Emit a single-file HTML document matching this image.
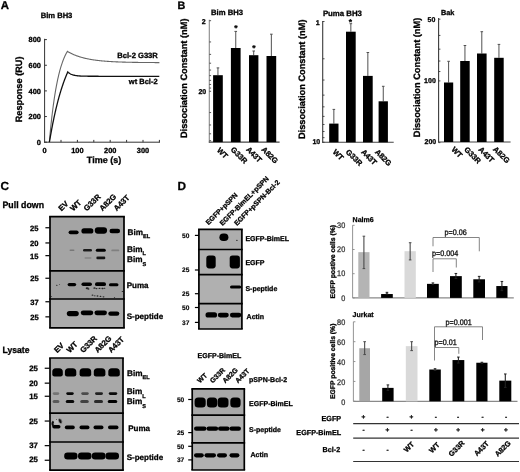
<!DOCTYPE html>
<html><head><meta charset="utf-8"><title>Figure</title>
<style>html,body{margin:0;padding:0;background:#fff;}body{width:520px;height:472px;overflow:hidden;font-family:"Liberation Sans",sans-serif;}svg{display:block;will-change:transform;}</style>
</head><body>
<svg width="520" height="472" viewBox="0 0 520 472" font-family='"Liberation Sans", sans-serif' font-weight="bold" text-rendering="geometricPrecision">
<defs><filter id="b1" x="-50%" y="-50%" width="200%" height="200%"><feGaussianBlur stdDeviation="0.55"/></filter>
<filter id="b2" x="-50%" y="-50%" width="200%" height="200%"><feGaussianBlur stdDeviation="0.9"/></filter></defs>
<rect width="520" height="472" fill="#fff"/>
<text x="0.70" y="8.90" font-size="11.4" fill="#000" stroke="#000" stroke-width="0.3">A</text>
<text x="40.70" y="18.10" font-size="7.6" fill="#000" stroke="#000" stroke-width="0.3">Bim BH3</text>
<line x1="44.60" y1="38.80" x2="44.60" y2="142.70" stroke="#333" stroke-width="1"/>
<line x1="44.10" y1="142.20" x2="160.00" y2="142.20" stroke="#333" stroke-width="1"/>
<line x1="44.60" y1="142.20" x2="46.90" y2="142.20" stroke="#333" stroke-width="1"/>
<text x="40.90" y="144.90" font-size="7.4" text-anchor="end" fill="#000" stroke="#000" stroke-width="0.3">0</text>
<line x1="44.60" y1="116.55" x2="46.90" y2="116.55" stroke="#333" stroke-width="1"/>
<text x="40.90" y="119.25" font-size="7.4" text-anchor="end" fill="#000" stroke="#000" stroke-width="0.3">200</text>
<line x1="44.60" y1="90.90" x2="46.90" y2="90.90" stroke="#333" stroke-width="1"/>
<text x="40.90" y="93.60" font-size="7.4" text-anchor="end" fill="#000" stroke="#000" stroke-width="0.3">400</text>
<line x1="44.60" y1="65.25" x2="46.90" y2="65.25" stroke="#333" stroke-width="1"/>
<text x="40.90" y="67.95" font-size="7.4" text-anchor="end" fill="#000" stroke="#000" stroke-width="0.3">600</text>
<line x1="44.60" y1="39.60" x2="46.90" y2="39.60" stroke="#333" stroke-width="1"/>
<text x="40.90" y="42.30" font-size="7.4" text-anchor="end" fill="#000" stroke="#000" stroke-width="0.3">800</text>
<line x1="61.00" y1="142.20" x2="61.00" y2="139.90" stroke="#333" stroke-width="1"/>
<line x1="77.40" y1="142.20" x2="77.40" y2="139.90" stroke="#333" stroke-width="1"/>
<line x1="93.80" y1="142.20" x2="93.80" y2="139.90" stroke="#333" stroke-width="1"/>
<line x1="110.20" y1="142.20" x2="110.20" y2="139.90" stroke="#333" stroke-width="1"/>
<line x1="126.60" y1="142.20" x2="126.60" y2="139.90" stroke="#333" stroke-width="1"/>
<line x1="143.00" y1="142.20" x2="143.00" y2="139.90" stroke="#333" stroke-width="1"/>
<line x1="159.40" y1="142.20" x2="159.40" y2="139.90" stroke="#333" stroke-width="1"/>
<text x="44.60" y="153.20" font-size="7.4" text-anchor="middle" fill="#000" stroke="#000" stroke-width="0.3">0</text>
<text x="77.40" y="153.20" font-size="7.4" text-anchor="middle" fill="#000" stroke="#000" stroke-width="0.3">100</text>
<text x="110.20" y="153.20" font-size="7.4" text-anchor="middle" fill="#000" stroke="#000" stroke-width="0.3">200</text>
<text x="143.00" y="153.20" font-size="7.4" text-anchor="middle" fill="#000" stroke="#000" stroke-width="0.3">300</text>
<text x="22.40" y="89.40" font-size="9.2" text-anchor="middle" fill="#000" stroke="#000" stroke-width="0.3" transform="rotate(-90 22.40 89.40)">Response (RU)</text>
<text x="104.00" y="162.70" font-size="9.0" text-anchor="middle" fill="#000" stroke="#000" stroke-width="0.3">Time (s)</text>
<path d="M49.30,142.20 L49.55,139.42 L49.80,136.71 L50.05,134.07 L50.30,131.49 L50.55,128.99 L50.80,126.55 L51.05,124.18 L51.30,121.86 L51.55,119.61 L51.80,117.42 L52.05,115.28 L52.30,113.20 L52.55,111.18 L52.80,109.21 L53.05,107.29 L53.30,105.41 L53.55,103.59 L53.80,101.82 L54.05,100.09 L54.30,98.41 L54.55,96.77 L54.80,95.17 L55.05,93.62 L55.30,92.11 L55.55,90.63 L55.80,89.20 L56.05,87.80 L56.30,86.44 L56.55,85.11 L56.80,83.82 L57.05,82.57 L57.30,81.34 L57.55,80.15 L57.80,78.99 L58.05,77.86 L58.30,76.76 L58.55,75.68 L58.80,74.64 L59.05,73.62 L59.30,72.63 L59.55,71.67 L59.80,70.73 L60.05,69.81 L60.30,68.92 L60.55,68.06 L60.80,67.21 L61.05,66.39 L61.30,65.59 L61.55,64.81 L61.80,64.05 L62.05,63.31 L62.30,62.59 L62.55,61.88 L62.80,61.20 L63.05,60.54 L63.30,59.89 L63.55,59.26 L63.80,58.64 L64.05,58.04 L64.30,57.46 L64.55,56.89 L64.80,56.34 L65.05,55.80 L65.30,55.28 L65.55,54.77 L65.80,54.27 L66.05,53.78 L66.30,53.31 L66.55,52.85 L66.80,52.41 L67.05,51.97 L67.30,51.55 L67.40,51.38 L67.90,51.68 L68.40,51.97 L68.90,52.25 L69.40,52.52 L69.90,52.79 L70.40,53.05 L70.90,53.30 L71.40,53.55 L71.90,53.79 L72.40,54.02 L72.90,54.25 L73.40,54.47 L73.90,54.68 L74.40,54.89 L74.90,55.10 L75.40,55.30 L75.90,55.49 L76.40,55.68 L76.90,55.86 L77.40,56.04 L77.90,56.22 L78.40,56.39 L78.90,56.55 L79.40,56.71 L79.90,56.87 L80.40,57.02 L80.90,57.17 L81.40,57.32 L81.90,57.46 L82.40,57.59 L82.90,57.73 L83.40,57.86 L83.90,57.99 L84.40,58.11 L84.90,58.23 L85.40,58.35 L85.90,58.46 L86.40,58.57 L86.90,58.68 L87.40,58.78 L87.90,58.89 L88.40,58.99 L88.90,59.08 L89.40,59.18 L89.90,59.27 L90.40,59.36 L90.90,59.45 L91.40,59.53 L91.90,59.61 L92.40,59.69 L92.90,59.77 L93.40,59.85 L93.90,59.92 L94.40,60.00 L94.90,60.07 L95.40,60.14 L95.90,60.20 L96.40,60.27 L96.90,60.33 L97.40,60.39 L97.90,60.45 L98.40,60.51 L98.90,60.57 L99.40,60.62 L99.90,60.68 L100.40,60.73 L100.90,60.78 L101.40,60.83 L101.90,60.88 L102.40,60.93 L102.90,60.97 L103.40,61.02 L103.90,61.06 L104.40,61.11 L104.90,61.15 L105.40,61.19 L105.90,61.23 L106.40,61.26 L106.90,61.30 L107.40,61.34 L107.90,61.37 L108.40,61.41 L108.90,61.44 L109.40,61.47 L109.90,61.51 L110.40,61.54 L110.90,61.57 L111.40,61.60 L111.90,61.63 L112.40,61.65 L112.90,61.68 L113.40,61.71 L113.90,61.73 L114.40,61.76 L114.90,61.78 L115.40,61.81 L115.90,61.83 L116.40,61.85 L116.90,61.87 L117.40,61.89 L117.90,61.91 L118.40,61.93 L118.90,61.95 L119.40,61.97 L119.90,61.99 L120.40,62.01 L120.90,62.03 L121.40,62.05 L121.90,62.06 L122.40,62.08 L122.90,62.09 L123.40,62.11 L123.90,62.13 L124.40,62.14 L124.90,62.15 L125.40,62.17 L125.90,62.18 L126.40,62.19 L126.90,62.21 L127.40,62.22 L127.90,62.23 L128.40,62.24 L128.90,62.26 L129.40,62.27 L129.90,62.28 L130.40,62.29 L130.90,62.30 L131.40,62.31 L131.90,62.32 L132.40,62.33 L132.90,62.34 L133.40,62.35 L133.90,62.36 L134.40,62.36 L134.90,62.37 L135.40,62.38 L135.90,62.39 L136.40,62.40 L136.90,62.40 L137.40,62.41 L137.90,62.42 L138.40,62.43 L138.90,62.43 L139.40,62.44 L139.90,62.45 L140.40,62.45 L140.90,62.46 L141.40,62.46 L141.90,62.47 L142.40,62.48 L142.90,62.48 L143.40,62.49 L143.90,62.49 L144.40,62.50 L144.90,62.50 L145.40,62.51 L145.90,62.51 L146.40,62.52 L146.90,62.52 L147.40,62.52 L147.90,62.53 L148.40,62.53 L148.90,62.54 L149.40,62.54 L149.90,62.54 L150.40,62.55 L150.90,62.55 L151.40,62.56 L151.90,62.56 L152.40,62.56 L152.90,62.57 L153.40,62.57 L153.90,62.57 L154.40,62.57 L154.90,62.58 L155.40,62.58 L155.90,62.58 L156.40,62.59 L156.90,62.59 L157.40,62.59 L157.90,62.59 L158.40,62.60 L158.90,62.60 L159.40,62.60" stroke="#666" stroke-width="1.1" fill="none"/>
<path d="M49.40,142.20 L49.65,140.70 L49.90,139.23 L50.15,137.77 L50.40,136.33 L50.65,134.92 L50.90,133.52 L51.15,132.14 L51.40,130.78 L51.65,129.43 L51.90,128.11 L52.15,126.80 L52.40,125.51 L52.65,124.24 L52.90,122.98 L53.15,121.75 L53.40,120.52 L53.65,119.32 L53.90,118.13 L54.15,116.96 L54.40,115.80 L54.65,114.66 L54.90,113.53 L55.15,112.42 L55.40,111.32 L55.65,110.24 L55.90,109.17 L56.15,108.12 L56.40,107.08 L56.65,106.05 L56.90,105.04 L57.15,104.04 L57.40,103.06 L57.65,102.09 L57.90,101.13 L58.15,100.18 L58.40,99.25 L58.65,98.33 L58.90,97.42 L59.15,96.53 L59.40,95.64 L59.65,94.77 L59.90,93.91 L60.15,93.06 L60.40,92.23 L60.65,91.40 L60.90,90.59 L61.15,89.78 L61.40,88.99 L61.65,88.21 L61.90,87.43 L62.15,86.67 L62.40,85.92 L62.65,85.18 L62.90,84.45 L63.15,83.72 L63.40,83.01 L63.65,82.31 L63.90,81.62 L64.15,80.93 L64.40,80.26 L64.65,79.59 L64.90,78.94 L65.15,78.29 L65.40,77.65 L65.65,77.02 L65.90,76.40 L66.15,75.78 L66.40,75.18 L66.65,74.58 L66.90,73.99 L67.15,73.41 L67.40,72.84 L67.65,72.27 L67.80,71.93 L68.30,72.39 L68.80,72.80 L69.30,73.17 L69.80,73.49 L70.30,73.79 L70.80,74.05 L71.30,74.28 L71.80,74.49 L72.30,74.68 L72.80,74.85 L73.30,75.00 L73.80,75.13 L74.30,75.25 L74.80,75.36 L75.30,75.46 L75.80,75.54 L76.30,75.62 L76.80,75.69 L77.30,75.75 L77.80,75.81 L78.30,75.86 L78.80,75.90 L79.30,75.94 L79.80,75.98 L80.30,76.01 L80.80,76.04 L81.30,76.06 L81.80,76.09 L82.30,76.11 L82.80,76.12 L83.30,76.14 L83.80,76.16 L84.30,76.17 L84.80,76.18 L85.30,76.19 L85.80,76.20 L86.30,76.21 L86.80,76.22 L87.30,76.22 L87.80,76.23 L88.30,76.23 L88.80,76.24 L89.30,76.24 L89.80,76.25 L90.30,76.25 L90.80,76.25 L91.30,76.26 L91.80,76.26 L92.30,76.26 L92.80,76.26 L93.30,76.26 L93.80,76.27 L94.30,76.27 L94.80,76.27 L95.30,76.27 L95.80,76.27 L96.30,76.27 L96.80,76.27 L97.30,76.27 L97.80,76.27 L98.30,76.27 L98.80,76.28 L99.30,76.28 L99.80,76.28 L100.30,76.28 L100.80,76.28 L101.30,76.28 L101.80,76.28 L102.30,76.28 L102.80,76.28 L103.30,76.28 L103.80,76.28 L104.30,76.28 L104.80,76.28 L105.30,76.28 L105.80,76.28 L106.30,76.28 L106.80,76.28 L107.30,76.28 L107.80,76.28 L108.30,76.28 L108.80,76.28 L109.30,76.28 L109.80,76.28 L110.30,76.28 L110.80,76.28 L111.30,76.28 L111.80,76.28 L112.30,76.28 L112.80,76.28 L113.30,76.28 L113.80,76.28 L114.30,76.28 L114.80,76.28 L115.30,76.28 L115.80,76.28 L116.30,76.28 L116.80,76.28 L117.30,76.28 L117.80,76.28 L118.30,76.28 L118.80,76.28 L119.30,76.28 L119.80,76.28 L120.30,76.28 L120.80,76.28 L121.30,76.28 L121.80,76.28 L122.30,76.28 L122.80,76.28 L123.30,76.28 L123.80,76.28 L124.30,76.28 L124.80,76.28 L125.30,76.28 L125.80,76.28 L126.30,76.28 L126.80,76.28 L127.30,76.28 L127.80,76.28 L128.30,76.28 L128.80,76.28 L129.30,76.28 L129.80,76.28 L130.30,76.28 L130.80,76.28 L131.30,76.28 L131.80,76.28 L132.30,76.28 L132.80,76.28 L133.30,76.28 L133.80,76.28 L134.30,76.28 L134.80,76.28 L135.30,76.28 L135.80,76.28 L136.30,76.28 L136.80,76.28 L137.30,76.28 L137.80,76.28 L138.30,76.28 L138.80,76.28 L139.30,76.28 L139.80,76.28 L140.30,76.28 L140.80,76.28 L141.30,76.28 L141.80,76.28 L142.30,76.28 L142.80,76.28 L143.30,76.28 L143.80,76.28 L144.30,76.28 L144.80,76.28 L145.30,76.28 L145.80,76.28 L146.30,76.28 L146.80,76.28 L147.30,76.28 L147.80,76.28 L148.30,76.28 L148.80,76.28 L149.30,76.28 L149.80,76.28 L150.30,76.28 L150.80,76.28 L151.30,76.28 L151.80,76.28 L152.30,76.28 L152.80,76.28 L153.30,76.28 L153.80,76.28 L154.30,76.28 L154.80,76.28 L155.30,76.28 L155.80,76.28 L156.30,76.28 L156.80,76.28 L157.30,76.28 L157.80,76.28 L158.30,76.28 L158.80,76.28 L159.30,76.28" stroke="#111" stroke-width="1.3" fill="none"/>
<text x="117.30" y="57.70" font-size="7.6" fill="#000" stroke="#000" stroke-width="0.3">Bcl-2 G33R</text>
<text x="128.80" y="84.20" font-size="7.5" fill="#000" stroke="#000" stroke-width="0.3">wt Bcl-2</text>
<text x="177.50" y="9.30" font-size="10.8" fill="#000" stroke="#000" stroke-width="0.3">B</text>
<line x1="209.30" y1="19.70" x2="209.30" y2="142.60" stroke="#888" stroke-width="1.1"/>
<line x1="208.80" y1="142.10" x2="279.60" y2="142.10" stroke="#444" stroke-width="1.1"/>
<line x1="209.30" y1="20.70" x2="211.10" y2="20.70" stroke="#444" stroke-width="0.9"/>
<line x1="209.30" y1="41.95" x2="211.10" y2="41.95" stroke="#444" stroke-width="0.9"/>
<line x1="209.30" y1="54.38" x2="211.10" y2="54.38" stroke="#444" stroke-width="0.9"/>
<line x1="209.30" y1="63.21" x2="211.10" y2="63.21" stroke="#444" stroke-width="0.9"/>
<line x1="209.30" y1="70.05" x2="211.10" y2="70.05" stroke="#444" stroke-width="0.9"/>
<line x1="209.30" y1="75.64" x2="211.10" y2="75.64" stroke="#444" stroke-width="0.9"/>
<line x1="209.30" y1="80.36" x2="211.10" y2="80.36" stroke="#444" stroke-width="0.9"/>
<line x1="209.30" y1="84.46" x2="211.10" y2="84.46" stroke="#444" stroke-width="0.9"/>
<line x1="209.30" y1="88.07" x2="211.10" y2="88.07" stroke="#444" stroke-width="0.9"/>
<line x1="209.30" y1="91.30" x2="211.10" y2="91.30" stroke="#444" stroke-width="0.9"/>
<line x1="209.30" y1="112.55" x2="211.10" y2="112.55" stroke="#444" stroke-width="0.9"/>
<line x1="209.30" y1="124.98" x2="211.10" y2="124.98" stroke="#444" stroke-width="0.9"/>
<line x1="209.30" y1="133.81" x2="211.10" y2="133.81" stroke="#444" stroke-width="0.9"/>
<line x1="209.30" y1="140.65" x2="211.10" y2="140.65" stroke="#444" stroke-width="0.9"/>
<text x="205.60" y="24.40" font-size="7.0" text-anchor="end" fill="#000" stroke="#000" stroke-width="0.3">2</text>
<text x="206.20" y="93.80" font-size="7.0" text-anchor="end" fill="#000" stroke="#000" stroke-width="0.3">20</text>
<line x1="217.95" y1="67.90" x2="217.95" y2="75.20" stroke="#505050" stroke-width="1.0"/>
<line x1="216.65" y1="67.90" x2="219.25" y2="67.90" stroke="#505050" stroke-width="1.0"/>
<rect x="213.10" y="75.20" width="9.70" height="66.90" fill="#000"/>
<line x1="235.75" y1="31.40" x2="235.75" y2="48.00" stroke="#505050" stroke-width="1.0"/>
<line x1="234.45" y1="31.40" x2="237.05" y2="31.40" stroke="#505050" stroke-width="1.0"/>
<rect x="230.90" y="48.00" width="9.70" height="94.10" fill="#000"/>
<line x1="253.70" y1="51.00" x2="253.70" y2="55.20" stroke="#505050" stroke-width="1.0"/>
<line x1="252.40" y1="51.00" x2="255.00" y2="51.00" stroke="#505050" stroke-width="1.0"/>
<rect x="249.00" y="55.20" width="9.40" height="86.90" fill="#000"/>
<line x1="271.35" y1="34.20" x2="271.35" y2="56.00" stroke="#505050" stroke-width="1.0"/>
<line x1="270.05" y1="34.20" x2="272.65" y2="34.20" stroke="#505050" stroke-width="1.0"/>
<rect x="266.50" y="56.00" width="9.70" height="86.10" fill="#000"/>
<text x="235.80" y="31.10" font-size="8.5" text-anchor="middle" fill="#000" stroke="#000" stroke-width="0.3">*</text>
<text x="253.80" y="50.60" font-size="8.5" text-anchor="middle" fill="#000" stroke="#000" stroke-width="0.3">*</text>
<text x="216.40" y="150.70" font-size="7.6" fill="#000" stroke="#000" stroke-width="0.3" transform="rotate(45 216.40 150.70)">WT</text>
<text x="230.30" y="150.00" font-size="7.6" fill="#000" stroke="#000" stroke-width="0.3" transform="rotate(45 230.30 150.00)">G33R</text>
<text x="245.70" y="150.00" font-size="7.6" fill="#000" stroke="#000" stroke-width="0.3" transform="rotate(45 245.70 150.00)">A43T</text>
<text x="261.00" y="150.00" font-size="7.6" fill="#000" stroke="#000" stroke-width="0.3" transform="rotate(45 261.00 150.00)">A82G</text>
<text x="211.00" y="15.40" font-size="7.7" fill="#000" stroke="#000" stroke-width="0.3">Bim BH3</text>
<text x="186.70" y="78.30" font-size="9.24" text-anchor="middle" fill="#000" stroke="#000" stroke-width="0.3" transform="rotate(-90 186.70 78.30)">Dissociation Constant (nM)</text>
<line x1="322.70" y1="21.00" x2="322.70" y2="142.80" stroke="#3a3a3a" stroke-width="1.1"/>
<line x1="322.20" y1="142.30" x2="393.70" y2="142.30" stroke="#444" stroke-width="1.1"/>
<line x1="322.70" y1="21.50" x2="324.50" y2="21.50" stroke="#3a3a3a" stroke-width="0.9"/>
<line x1="322.70" y1="58.76" x2="324.50" y2="58.76" stroke="#3a3a3a" stroke-width="0.9"/>
<line x1="322.70" y1="80.04" x2="324.50" y2="80.04" stroke="#3a3a3a" stroke-width="0.9"/>
<line x1="322.70" y1="95.13" x2="324.50" y2="95.13" stroke="#3a3a3a" stroke-width="0.9"/>
<line x1="322.70" y1="106.84" x2="324.50" y2="106.84" stroke="#3a3a3a" stroke-width="0.9"/>
<line x1="322.70" y1="116.40" x2="324.50" y2="116.40" stroke="#3a3a3a" stroke-width="0.9"/>
<line x1="322.70" y1="124.49" x2="324.50" y2="124.49" stroke="#3a3a3a" stroke-width="0.9"/>
<line x1="322.70" y1="131.49" x2="324.50" y2="131.49" stroke="#3a3a3a" stroke-width="0.9"/>
<line x1="322.70" y1="137.67" x2="324.50" y2="137.67" stroke="#3a3a3a" stroke-width="0.9"/>
<line x1="322.70" y1="142.30" x2="324.50" y2="142.30" stroke="#3a3a3a" stroke-width="0.9"/>
<text x="319.60" y="24.90" font-size="7.0" text-anchor="end" fill="#000" stroke="#000" stroke-width="0.3">1</text>
<text x="320.20" y="144.10" font-size="7.0" text-anchor="end" fill="#000" stroke="#000" stroke-width="0.3">10</text>
<line x1="333.85" y1="109.40" x2="333.85" y2="123.60" stroke="#505050" stroke-width="1.0"/>
<line x1="332.55" y1="109.40" x2="335.15" y2="109.40" stroke="#505050" stroke-width="1.0"/>
<rect x="329.20" y="123.60" width="9.30" height="18.70" fill="#000"/>
<line x1="350.85" y1="23.70" x2="350.85" y2="31.70" stroke="#505050" stroke-width="1.0"/>
<line x1="349.55" y1="23.70" x2="352.15" y2="23.70" stroke="#505050" stroke-width="1.0"/>
<rect x="346.00" y="31.70" width="9.70" height="110.60" fill="#000"/>
<line x1="367.85" y1="52.50" x2="367.85" y2="75.90" stroke="#505050" stroke-width="1.0"/>
<line x1="366.55" y1="52.50" x2="369.15" y2="52.50" stroke="#505050" stroke-width="1.0"/>
<rect x="363.00" y="75.90" width="9.70" height="66.40" fill="#000"/>
<line x1="383.25" y1="86.30" x2="383.25" y2="101.30" stroke="#505050" stroke-width="1.0"/>
<line x1="381.95" y1="86.30" x2="384.55" y2="86.30" stroke="#505050" stroke-width="1.0"/>
<rect x="378.60" y="101.30" width="9.30" height="41.00" fill="#000"/>
<text x="350.50" y="24.50" font-size="8.5" text-anchor="middle" fill="#000" stroke="#000" stroke-width="0.3">*</text>
<text x="332.20" y="152.40" font-size="7.6" fill="#000" stroke="#000" stroke-width="0.3" transform="rotate(45 332.20 152.40)">WT</text>
<text x="345.30" y="152.40" font-size="7.6" fill="#000" stroke="#000" stroke-width="0.3" transform="rotate(45 345.30 152.40)">G33R</text>
<text x="360.70" y="152.40" font-size="7.6" fill="#000" stroke="#000" stroke-width="0.3" transform="rotate(45 360.70 152.40)">A43T</text>
<text x="374.50" y="152.40" font-size="7.6" fill="#000" stroke="#000" stroke-width="0.3" transform="rotate(45 374.50 152.40)">A82G</text>
<text x="322.90" y="15.60" font-size="7.8" fill="#000" stroke="#000" stroke-width="0.3">Puma BH3</text>
<text x="304.90" y="79.30" font-size="9.24" text-anchor="middle" fill="#000" stroke="#000" stroke-width="0.3" transform="rotate(-90 304.90 79.30)">Dissociation Constant (nM)</text>
<line x1="438.60" y1="17.90" x2="438.60" y2="142.50" stroke="#3a3a3a" stroke-width="1.1"/>
<line x1="438.10" y1="142.00" x2="510.60" y2="142.00" stroke="#444" stroke-width="1.1"/>
<line x1="438.60" y1="19.20" x2="440.40" y2="19.20" stroke="#3a3a3a" stroke-width="0.9"/>
<line x1="438.60" y1="35.43" x2="440.40" y2="35.43" stroke="#3a3a3a" stroke-width="0.9"/>
<line x1="438.60" y1="49.16" x2="440.40" y2="49.16" stroke="#3a3a3a" stroke-width="0.9"/>
<line x1="438.60" y1="61.04" x2="440.40" y2="61.04" stroke="#3a3a3a" stroke-width="0.9"/>
<line x1="438.60" y1="71.53" x2="440.40" y2="71.53" stroke="#3a3a3a" stroke-width="0.9"/>
<line x1="438.60" y1="80.91" x2="440.40" y2="80.91" stroke="#3a3a3a" stroke-width="0.9"/>
<line x1="438.60" y1="142.62" x2="440.40" y2="142.62" stroke="#3a3a3a" stroke-width="0.9"/>
<text x="435.40" y="22.10" font-size="7.0" text-anchor="end" fill="#000" stroke="#000" stroke-width="0.3">50</text>
<text x="435.80" y="82.90" font-size="7.0" text-anchor="end" fill="#000" stroke="#000" stroke-width="0.3">100</text>
<text x="436.20" y="143.80" font-size="7.0" text-anchor="end" fill="#000" stroke="#000" stroke-width="0.3">200</text>
<line x1="448.60" y1="61.30" x2="448.60" y2="82.50" stroke="#505050" stroke-width="1.0"/>
<line x1="447.30" y1="61.30" x2="449.90" y2="61.30" stroke="#505050" stroke-width="1.0"/>
<rect x="444.00" y="82.50" width="9.20" height="59.50" fill="#000"/>
<line x1="464.95" y1="45.50" x2="464.95" y2="61.00" stroke="#505050" stroke-width="1.0"/>
<line x1="463.65" y1="45.50" x2="466.25" y2="45.50" stroke="#505050" stroke-width="1.0"/>
<rect x="460.20" y="61.00" width="9.50" height="81.00" fill="#000"/>
<line x1="481.80" y1="31.70" x2="481.80" y2="53.50" stroke="#505050" stroke-width="1.0"/>
<line x1="480.50" y1="31.70" x2="483.10" y2="31.70" stroke="#505050" stroke-width="1.0"/>
<rect x="477.00" y="53.50" width="9.60" height="88.50" fill="#000"/>
<line x1="498.95" y1="44.40" x2="498.95" y2="57.80" stroke="#505050" stroke-width="1.0"/>
<line x1="497.65" y1="44.40" x2="500.25" y2="44.40" stroke="#505050" stroke-width="1.0"/>
<rect x="494.20" y="57.80" width="9.50" height="84.20" fill="#000"/>
<text x="451.00" y="150.00" font-size="7.6" fill="#000" stroke="#000" stroke-width="0.3" transform="rotate(45 451.00 150.00)">WT</text>
<text x="463.80" y="150.00" font-size="7.6" fill="#000" stroke="#000" stroke-width="0.3" transform="rotate(45 463.80 150.00)">G33R</text>
<text x="478.00" y="150.00" font-size="7.6" fill="#000" stroke="#000" stroke-width="0.3" transform="rotate(45 478.00 150.00)">A43T</text>
<text x="492.60" y="149.70" font-size="7.6" fill="#000" stroke="#000" stroke-width="0.3" transform="rotate(45 492.60 149.70)">A82G</text>
<text x="440.90" y="15.40" font-size="7.3" fill="#000" stroke="#000" stroke-width="0.3">Bak</text>
<text x="419.90" y="77.50" font-size="9.24" text-anchor="middle" fill="#000" stroke="#000" stroke-width="0.3" transform="rotate(-90 419.90 77.50)">Dissociation Constant (nM)</text>
<text x="0.60" y="189.60" font-size="11.8" fill="#000" stroke="#000" stroke-width="0.28">C</text>
<text x="0.00" y="0.00" font-size="8.8" fill="#000" stroke="#000" stroke-width="0.28" transform="translate(2.50 207.60) scale(1 1.06)">Pull down</text>
<text x="0.00" y="0.00" font-size="8.6" fill="#000" stroke="#000" stroke-width="0.28" transform="translate(2.50 353.00) scale(1 1.07)">Lysate</text>
<text x="61.55" y="211.60" font-size="7.8" fill="#000" stroke="#000" stroke-width="0.28" transform="rotate(-45 61.55 211.60)">EV</text>
<text x="73.25" y="211.60" font-size="7.8" fill="#000" stroke="#000" stroke-width="0.28" transform="rotate(-45 73.25 211.60)">WT</text>
<text x="86.75" y="211.60" font-size="7.8" fill="#000" stroke="#000" stroke-width="0.28" transform="rotate(-45 86.75 211.60)">G33R</text>
<text x="102.45" y="211.60" font-size="7.8" fill="#000" stroke="#000" stroke-width="0.28" transform="rotate(-45 102.45 211.60)">A82G</text>
<text x="116.75" y="211.60" font-size="7.8" fill="#000" stroke="#000" stroke-width="0.28" transform="rotate(-45 116.75 211.60)">A43T</text>
<rect x="50.00" y="216.60" width="74.00" height="54.20" fill="#a4a4a4"/>
<rect x="50.00" y="270.80" width="74.00" height="28.20" fill="#9f9f9f"/>
<rect x="50.00" y="299.00" width="74.00" height="28.80" fill="#acacac"/>
<line x1="49.15" y1="216.60" x2="124.85" y2="216.60" stroke="#000" stroke-width="1.7"/>
<line x1="49.15" y1="270.80" x2="124.85" y2="270.80" stroke="#000" stroke-width="1.7"/>
<line x1="49.15" y1="299.00" x2="124.85" y2="299.00" stroke="#000" stroke-width="1.7"/>
<line x1="49.15" y1="327.80" x2="124.85" y2="327.80" stroke="#000" stroke-width="1.7"/>
<line x1="50.00" y1="216.60" x2="50.00" y2="327.80" stroke="#000" stroke-width="1.7"/>
<line x1="124.00" y1="216.60" x2="124.00" y2="327.80" stroke="#000" stroke-width="1.7"/>
<rect x="68.60" y="230.40" width="10.00" height="3.80" rx="1.90" fill="#000" opacity="1.0" filter="url(#b1)"/>
<rect x="81.40" y="228.30" width="12.00" height="5.20" rx="2.60" fill="#000" opacity="1.0" filter="url(#b1)"/>
<rect x="94.75" y="227.35" width="12.30" height="6.30" rx="3.15" fill="#000" opacity="1.0" filter="url(#b1)"/>
<rect x="109.50" y="228.65" width="10.60" height="4.70" rx="2.35" fill="#000" opacity="1.0" filter="url(#b1)"/>
<rect x="69.50" y="249.50" width="5.00" height="1.60" rx="0.80" fill="#444" opacity="0.45" filter="url(#b1)"/>
<rect x="83.00" y="249.10" width="9.00" height="2.40" rx="1.20" fill="#111" opacity="0.9" filter="url(#b1)"/>
<rect x="95.80" y="248.70" width="10.00" height="3.00" rx="1.50" fill="#000" opacity="1.0" filter="url(#b1)"/>
<rect x="111.30" y="249.50" width="8.00" height="1.80" rx="0.90" fill="#555" opacity="0.45" filter="url(#b1)"/>
<rect x="84.50" y="257.25" width="7.00" height="1.50" rx="0.75" fill="#555" opacity="0.4" filter="url(#b1)"/>
<rect x="96.30" y="256.60" width="9.00" height="2.60" rx="1.30" fill="#111" opacity="0.95" filter="url(#b1)"/>
<rect x="67.60" y="282.90" width="8.60" height="3.40" rx="1.70" fill="#000" opacity="1.0" filter="url(#b1)"/>
<rect x="81.45" y="282.40" width="10.50" height="3.60" rx="1.80" fill="#000" opacity="1.0" filter="url(#b1)"/>
<rect x="95.00" y="282.30" width="11.00" height="3.80" rx="1.90" fill="#000" opacity="1.0" filter="url(#b1)"/>
<rect x="108.95" y="283.30" width="9.50" height="3.00" rx="1.50" fill="#000" opacity="1.0" filter="url(#b1)"/>
<ellipse cx="87.20" cy="288.20" rx="1.50" ry="1.05" fill="#1a1a1a" opacity="0.9" filter="url(#b1)"/>
<ellipse cx="88.50" cy="289.00" rx="1.00" ry="0.70" fill="#1a1a1a" opacity="0.9" filter="url(#b1)"/>
<ellipse cx="94.50" cy="288.00" rx="1.20" ry="0.84" fill="#1a1a1a" opacity="0.9" filter="url(#b1)"/>
<ellipse cx="96.50" cy="288.60" rx="1.00" ry="0.70" fill="#1a1a1a" opacity="0.9" filter="url(#b1)"/>
<ellipse cx="99.50" cy="288.40" rx="1.00" ry="0.70" fill="#1a1a1a" opacity="0.9" filter="url(#b1)"/>
<ellipse cx="102.50" cy="288.60" rx="1.10" ry="0.77" fill="#1a1a1a" opacity="0.9" filter="url(#b1)"/>
<ellipse cx="104.50" cy="288.20" rx="0.80" ry="0.56" fill="#1a1a1a" opacity="0.9" filter="url(#b1)"/>
<ellipse cx="92.50" cy="295.20" rx="0.90" ry="0.63" fill="#1a1a1a" opacity="0.9" filter="url(#b1)"/>
<ellipse cx="94.80" cy="295.80" rx="0.80" ry="0.56" fill="#1a1a1a" opacity="0.9" filter="url(#b1)"/>
<ellipse cx="97.50" cy="296.00" rx="1.00" ry="0.70" fill="#1a1a1a" opacity="0.9" filter="url(#b1)"/>
<ellipse cx="100.50" cy="296.40" rx="0.90" ry="0.63" fill="#1a1a1a" opacity="0.9" filter="url(#b1)"/>
<ellipse cx="103.50" cy="296.80" rx="0.90" ry="0.63" fill="#1a1a1a" opacity="0.9" filter="url(#b1)"/>
<ellipse cx="56.80" cy="285.20" rx="0.80" ry="0.56" fill="#1a1a1a" opacity="0.9" filter="url(#b1)"/>
<ellipse cx="59.50" cy="284.60" rx="0.60" ry="0.42" fill="#1a1a1a" opacity="0.9" filter="url(#b1)"/>
<ellipse cx="122.50" cy="291.50" rx="0.80" ry="0.56" fill="#1a1a1a" opacity="0.9" filter="url(#b1)"/>
<ellipse cx="114.50" cy="297.50" rx="0.70" ry="0.49" fill="#1a1a1a" opacity="0.9" filter="url(#b1)"/>
<ellipse cx="51.50" cy="296.50" rx="0.60" ry="0.42" fill="#1a1a1a" opacity="0.9" filter="url(#b1)"/>
<rect x="66.80" y="311.00" width="12.00" height="5.20" rx="2.60" fill="#000" opacity="1.0" filter="url(#b1)"/>
<rect x="80.75" y="310.40" width="12.50" height="4.80" rx="2.40" fill="#000" opacity="1.0" filter="url(#b1)"/>
<rect x="94.45" y="310.40" width="12.50" height="4.80" rx="2.40" fill="#000" opacity="1.0" filter="url(#b1)"/>
<rect x="108.30" y="311.40" width="11.00" height="4.40" rx="2.20" fill="#000" opacity="1.0" filter="url(#b1)"/>
<text x="0" y="0" transform="translate(127.50 234.90) scale(1 1.0)" font-size="8.2" stroke="#000" stroke-width="0.28">Bim<tspan font-size="5.58" dy="3.30">EL</tspan></text>
<text x="0" y="0" transform="translate(127.00 251.60) scale(1 1.0)" font-size="8.2" stroke="#000" stroke-width="0.28">Bim<tspan font-size="5.58" dy="3.30">L</tspan></text>
<text x="0" y="0" transform="translate(127.00 262.40) scale(1 1.0)" font-size="8.2" stroke="#000" stroke-width="0.28">Bim<tspan font-size="5.58" dy="3.30">S</tspan></text>
<text x="126.70" y="288.20" font-size="8.0" fill="#000" stroke="#000" stroke-width="0.28">Puma</text>
<text x="126.70" y="318.90" font-size="8.0" fill="#000" stroke="#000" stroke-width="0.28">S-peptide</text>
<line x1="45.40" y1="227.75" x2="49.70" y2="227.75" stroke="#000" stroke-width="1.2"/>
<text x="38.50" y="230.80" font-size="7.6" text-anchor="end" fill="#000" stroke="#000" stroke-width="0.28">25</text>
<line x1="45.40" y1="242.95" x2="49.70" y2="242.95" stroke="#000" stroke-width="1.2"/>
<text x="38.50" y="246.00" font-size="7.6" text-anchor="end" fill="#000" stroke="#000" stroke-width="0.28">20</text>
<line x1="45.40" y1="255.65" x2="49.70" y2="255.65" stroke="#000" stroke-width="1.2"/>
<text x="38.50" y="258.70" font-size="7.6" text-anchor="end" fill="#000" stroke="#000" stroke-width="0.28">15</text>
<line x1="45.40" y1="278.25" x2="49.70" y2="278.25" stroke="#000" stroke-width="1.2"/>
<text x="38.80" y="281.00" font-size="7.6" text-anchor="end" fill="#000" stroke="#000" stroke-width="0.28">25</text>
<line x1="45.40" y1="301.75" x2="49.70" y2="301.75" stroke="#000" stroke-width="1.2"/>
<text x="38.80" y="304.50" font-size="7.6" text-anchor="end" fill="#000" stroke="#000" stroke-width="0.28">37</text>
<line x1="45.40" y1="316.85" x2="49.70" y2="316.85" stroke="#000" stroke-width="1.2"/>
<text x="38.80" y="319.60" font-size="7.6" text-anchor="end" fill="#000" stroke="#000" stroke-width="0.28">25</text>
<text x="57.15" y="353.30" font-size="7.8" fill="#000" stroke="#000" stroke-width="0.28" transform="rotate(-45 57.15 353.30)">EV</text>
<text x="69.65" y="353.30" font-size="7.8" fill="#000" stroke="#000" stroke-width="0.28" transform="rotate(-45 69.65 353.30)">WT</text>
<text x="83.15" y="353.30" font-size="7.8" fill="#000" stroke="#000" stroke-width="0.28" transform="rotate(-45 83.15 353.30)">G33R</text>
<text x="97.65" y="353.30" font-size="7.8" fill="#000" stroke="#000" stroke-width="0.28" transform="rotate(-45 97.65 353.30)">A82G</text>
<text x="111.15" y="353.30" font-size="7.8" fill="#000" stroke="#000" stroke-width="0.28" transform="rotate(-45 111.15 353.30)">A43T</text>
<rect x="50.00" y="358.00" width="73.00" height="55.20" fill="#a8a8a8"/>
<rect x="50.00" y="413.20" width="73.00" height="28.80" fill="#aaaaaa"/>
<rect x="50.00" y="442.00" width="73.00" height="28.20" fill="#aeaeae"/>
<line x1="49.15" y1="358.00" x2="123.85" y2="358.00" stroke="#000" stroke-width="1.7"/>
<line x1="49.15" y1="413.20" x2="123.85" y2="413.20" stroke="#000" stroke-width="1.7"/>
<line x1="49.15" y1="442.00" x2="123.85" y2="442.00" stroke="#000" stroke-width="1.7"/>
<line x1="49.15" y1="470.20" x2="123.85" y2="470.20" stroke="#000" stroke-width="1.7"/>
<line x1="50.00" y1="358.00" x2="50.00" y2="470.20" stroke="#000" stroke-width="1.7"/>
<line x1="123.00" y1="358.00" x2="123.00" y2="470.20" stroke="#000" stroke-width="1.7"/>
<path d="M52.30,374.20 L52.30,371.80 Q52.30,368.20 55.90,368.20 L59.20,368.20 Q62.80,368.20 62.80,371.80 L62.80,374.20 Q62.80,376.40 60.60,376.40 L54.50,376.40 Q52.30,376.40 52.30,374.20 Z" fill="#050505" filter="url(#b1)"/>
<path d="M64.90,374.20 L64.90,371.80 Q64.90,368.20 68.50,368.20 L72.70,368.20 Q76.30,368.20 76.30,371.80 L76.30,374.20 Q76.30,376.40 74.10,376.40 L67.10,376.40 Q64.90,376.40 64.90,374.20 Z" fill="#050505" filter="url(#b1)"/>
<path d="M79.60,374.20 L79.60,371.80 Q79.60,368.20 83.20,368.20 L87.60,368.20 Q91.20,368.20 91.20,371.80 L91.20,374.20 Q91.20,376.40 89.00,376.40 L81.80,376.40 Q79.60,376.40 79.60,374.20 Z" fill="#050505" filter="url(#b1)"/>
<path d="M93.80,374.20 L93.80,371.80 Q93.80,368.20 97.40,368.20 L101.80,368.20 Q105.40,368.20 105.40,371.80 L105.40,374.20 Q105.40,376.40 103.20,376.40 L96.00,376.40 Q93.80,376.40 93.80,374.20 Z" fill="#050505" filter="url(#b1)"/>
<path d="M108.30,374.20 L108.30,371.80 Q108.30,368.20 111.90,368.20 L116.20,368.20 Q119.80,368.20 119.80,371.80 L119.80,374.20 Q119.80,376.40 117.60,376.40 L110.50,376.40 Q108.30,376.40 108.30,374.20 Z" fill="#050505" filter="url(#b1)"/>
<rect x="52.75" y="392.20" width="6.50" height="2.80" rx="1.40" fill="#000" opacity="0.3" filter="url(#b1)"/>
<rect x="66.25" y="392.20" width="7.50" height="2.80" rx="1.40" fill="#000" opacity="0.95" filter="url(#b1)"/>
<rect x="81.25" y="392.20" width="7.50" height="2.80" rx="1.40" fill="#000" opacity="0.55" filter="url(#b1)"/>
<rect x="95.00" y="392.20" width="8.00" height="2.80" rx="1.40" fill="#000" opacity="0.8" filter="url(#b1)"/>
<rect x="108.75" y="392.20" width="8.50" height="2.80" rx="1.40" fill="#000" opacity="0.95" filter="url(#b1)"/>
<rect x="52.60" y="400.00" width="6.80" height="3.00" rx="1.50" fill="#000" opacity="0.45" filter="url(#b1)"/>
<rect x="65.75" y="400.00" width="8.50" height="3.00" rx="1.50" fill="#000" opacity="0.95" filter="url(#b1)"/>
<rect x="80.25" y="400.00" width="8.50" height="3.00" rx="1.50" fill="#000" opacity="0.6" filter="url(#b1)"/>
<rect x="94.00" y="400.00" width="9.00" height="3.00" rx="1.50" fill="#000" opacity="0.75" filter="url(#b1)"/>
<rect x="107.75" y="400.00" width="9.50" height="3.00" rx="1.50" fill="#000" opacity="1.0" filter="url(#b1)"/>
<ellipse cx="56.80" cy="421.80" rx="3.20" ry="2.60" fill="#c2c2c2" filter="url(#b2)"/>
<rect x="52.30" y="425.00" width="8.20" height="3.60" rx="1.80" fill="#000" opacity="1.0" filter="url(#b1)"/>
<path d="M53.4,421.4 C52.1,423.0 52.3,425.0 53.8,426.4" stroke="#0a0a0a" stroke-width="1.8" fill="none" filter="url(#b1)"/>
<ellipse cx="60.1" cy="420.9" rx="1.4" ry="2.5" transform="rotate(-25 60.1 420.9)" fill="#0a0a0a" filter="url(#b1)"/>
<ellipse cx="56.50" cy="419.60" rx="0.60" ry="0.50" fill="#555" filter="url(#b1)"/>
<rect x="64.80" y="425.60" width="10.00" height="3.60" rx="1.80" fill="#000" opacity="1.0" filter="url(#b1)"/>
<rect x="79.50" y="425.60" width="10.00" height="3.60" rx="1.80" fill="#000" opacity="1.0" filter="url(#b1)"/>
<rect x="93.50" y="425.60" width="10.00" height="3.60" rx="1.80" fill="#000" opacity="1.0" filter="url(#b1)"/>
<rect x="108.00" y="425.60" width="10.50" height="3.60" rx="1.80" fill="#000" opacity="1.0" filter="url(#b1)"/>
<rect x="64.20" y="452.50" width="13.30" height="7.00" rx="3.30" fill="#000" opacity="1.0" filter="url(#b1)"/>
<rect x="78.00" y="452.50" width="13.50" height="7.00" rx="3.30" fill="#000" opacity="1.0" filter="url(#b1)"/>
<rect x="91.80" y="452.50" width="13.70" height="7.00" rx="3.30" fill="#000" opacity="1.0" filter="url(#b1)"/>
<rect x="105.50" y="452.50" width="13.50" height="7.00" rx="3.30" fill="#000" opacity="1.0" filter="url(#b1)"/>
<text x="0" y="0" transform="translate(127.10 375.60) scale(1 1.0)" font-size="8.2" stroke="#000" stroke-width="0.28">Bim<tspan font-size="5.58" dy="3.30">EL</tspan></text>
<text x="0" y="0" transform="translate(126.70 394.40) scale(1 1.0)" font-size="8.2" stroke="#000" stroke-width="0.28">Bim<tspan font-size="5.58" dy="3.30">L</tspan></text>
<text x="0" y="0" transform="translate(126.70 404.40) scale(1 1.0)" font-size="8.2" stroke="#000" stroke-width="0.28">Bim<tspan font-size="5.58" dy="3.30">S</tspan></text>
<text x="128.20" y="431.30" font-size="8.0" fill="#000" stroke="#000" stroke-width="0.28">Puma</text>
<text x="126.70" y="460.20" font-size="8.0" fill="#000" stroke="#000" stroke-width="0.28">S-peptide</text>
<line x1="44.70" y1="368.25" x2="49.70" y2="368.25" stroke="#000" stroke-width="1.2"/>
<text x="37.90" y="371.20" font-size="7.8" text-anchor="end" fill="#000" stroke="#000" stroke-width="0.28">25</text>
<line x1="44.70" y1="383.15" x2="49.70" y2="383.15" stroke="#000" stroke-width="1.2"/>
<text x="37.90" y="386.10" font-size="7.8" text-anchor="end" fill="#000" stroke="#000" stroke-width="0.28">20</text>
<line x1="44.70" y1="396.25" x2="49.70" y2="396.25" stroke="#000" stroke-width="1.2"/>
<text x="37.90" y="399.20" font-size="7.8" text-anchor="end" fill="#000" stroke="#000" stroke-width="0.28">15</text>
<line x1="44.70" y1="421.05" x2="49.70" y2="421.05" stroke="#000" stroke-width="1.2"/>
<text x="37.90" y="423.50" font-size="7.8" text-anchor="end" fill="#000" stroke="#000" stroke-width="0.28">25</text>
<line x1="44.70" y1="445.65" x2="49.70" y2="445.65" stroke="#000" stroke-width="1.2"/>
<text x="37.90" y="448.00" font-size="7.8" text-anchor="end" fill="#000" stroke="#000" stroke-width="0.28">37</text>
<line x1="44.70" y1="460.25" x2="49.70" y2="460.25" stroke="#000" stroke-width="1.2"/>
<text x="37.90" y="462.40" font-size="7.8" text-anchor="end" fill="#000" stroke="#000" stroke-width="0.28">25</text>
<text x="177.50" y="189.50" font-size="11.8" fill="#000" stroke="#000" stroke-width="0.28">D</text>
<text x="208.54" y="225.20" font-size="7.0" fill="#000" stroke="#000" stroke-width="0.28" transform="rotate(-45 208.54 225.20)">EGFP+pSPN</text>
<text x="222.54" y="226.00" font-size="7.0" fill="#000" stroke="#000" stroke-width="0.28" transform="rotate(-45 222.54 226.00)">EGFP-BimEL+pSPN</text>
<text x="236.94" y="226.00" font-size="7.0" fill="#000" stroke="#000" stroke-width="0.28" transform="rotate(-45 236.94 226.00)">EGFP+pSPN-Bcl-2</text>
<rect x="198.90" y="229.30" width="43.00" height="20.20" fill="#adadad"/>
<rect x="198.90" y="249.50" width="43.00" height="25.10" fill="#b0b0b0"/>
<rect x="198.90" y="274.60" width="43.00" height="29.00" fill="#b0b0b0"/>
<rect x="198.90" y="303.60" width="43.00" height="25.40" fill="#b0b0b0"/>
<line x1="198.05" y1="229.30" x2="242.75" y2="229.30" stroke="#000" stroke-width="1.7"/>
<line x1="198.05" y1="249.50" x2="242.75" y2="249.50" stroke="#000" stroke-width="1.7"/>
<line x1="198.05" y1="274.60" x2="242.75" y2="274.60" stroke="#000" stroke-width="1.7"/>
<line x1="198.05" y1="303.60" x2="242.75" y2="303.60" stroke="#000" stroke-width="1.7"/>
<line x1="198.05" y1="329.00" x2="242.75" y2="329.00" stroke="#000" stroke-width="1.7"/>
<line x1="198.90" y1="229.30" x2="198.90" y2="329.00" stroke="#000" stroke-width="1.7"/>
<line x1="241.90" y1="229.30" x2="241.90" y2="329.00" stroke="#000" stroke-width="1.7"/>
<rect x="219.40" y="233.50" width="9.00" height="7.60" rx="3.80" fill="#000" opacity="1.0" filter="url(#b1)"/>
<ellipse cx="236.90" cy="240.30" rx="0.80" ry="0.60" fill="#222"/>
<rect x="206.30" y="255.60" width="9.40" height="12.80" rx="2.80" fill="#000" opacity="1.0" filter="url(#b1)"/>
<rect x="229.70" y="255.60" width="10.20" height="12.80" rx="2.80" fill="#000" opacity="1.0" filter="url(#b1)"/>
<rect x="230.00" y="285.40" width="11.20" height="3.20" rx="1.60" fill="#000" opacity="1.0" filter="url(#b1)"/>
<rect x="205.50" y="312.30" width="11.60" height="5.20" rx="2.60" fill="#000" opacity="1.0" filter="url(#b1)"/>
<rect x="217.80" y="312.70" width="11.00" height="4.80" rx="2.40" fill="#000" opacity="1.0" filter="url(#b1)"/>
<rect x="229.90" y="312.80" width="11.40" height="4.60" rx="2.30" fill="#000" opacity="1.0" filter="url(#b1)"/>
<text x="245.40" y="241.00" font-size="7.0" fill="#000" stroke="#000" stroke-width="0.28">EGFP-BimEL</text>
<text x="245.40" y="265.40" font-size="7.0" fill="#000" stroke="#000" stroke-width="0.28">EGFP</text>
<text x="245.40" y="291.20" font-size="7.0" fill="#000" stroke="#000" stroke-width="0.28">S-peptide</text>
<text x="246.60" y="319.00" font-size="7.0" fill="#000" stroke="#000" stroke-width="0.28">Actin</text>
<line x1="194.90" y1="235.40" x2="198.90" y2="235.40" stroke="#000" stroke-width="1.2"/>
<text x="189.40" y="237.80" font-size="6.6" text-anchor="end" fill="#000" stroke="#000" stroke-width="0.15">50</text>
<line x1="194.90" y1="270.00" x2="198.90" y2="270.00" stroke="#000" stroke-width="1.2"/>
<text x="189.40" y="272.40" font-size="6.6" text-anchor="end" fill="#000" stroke="#000" stroke-width="0.15">25</text>
<line x1="194.90" y1="293.70" x2="198.90" y2="293.70" stroke="#000" stroke-width="1.2"/>
<text x="189.40" y="296.10" font-size="6.6" text-anchor="end" fill="#000" stroke="#000" stroke-width="0.15">25</text>
<line x1="194.90" y1="307.50" x2="198.90" y2="307.50" stroke="#000" stroke-width="1.2"/>
<text x="189.40" y="309.90" font-size="6.6" text-anchor="end" fill="#000" stroke="#000" stroke-width="0.15">50</text>
<line x1="194.90" y1="322.40" x2="198.90" y2="322.40" stroke="#000" stroke-width="1.2"/>
<text x="189.40" y="324.80" font-size="6.6" text-anchor="end" fill="#000" stroke="#000" stroke-width="0.15">37</text>
<text x="197.60" y="357.90" font-size="7.0" fill="#000" stroke="#000" stroke-width="0.28">EGFP-BimEL</text>
<text x="200.04" y="383.60" font-size="7.0" fill="#000" stroke="#000" stroke-width="0.28" transform="rotate(-45 200.04 383.60)">WT</text>
<text x="212.74" y="383.60" font-size="7.0" fill="#000" stroke="#000" stroke-width="0.28" transform="rotate(-45 212.74 383.60)">G33R</text>
<text x="225.34" y="383.60" font-size="7.0" fill="#000" stroke="#000" stroke-width="0.28" transform="rotate(-45 225.34 383.60)">A82G</text>
<text x="238.04" y="383.60" font-size="7.0" fill="#000" stroke="#000" stroke-width="0.28" transform="rotate(-45 238.04 383.60)">A43T</text>
<text x="249.10" y="381.60" font-size="7.0" fill="#000" stroke="#000" stroke-width="0.28">pSPN-Bcl-2</text>
<rect x="192.20" y="388.80" width="52.10" height="26.30" fill="#a8a8a8"/>
<rect x="192.20" y="415.10" width="52.10" height="27.70" fill="#b0b0b0"/>
<rect x="192.20" y="442.80" width="52.10" height="27.20" fill="#b0b0b0"/>
<line x1="191.35" y1="388.80" x2="245.15" y2="388.80" stroke="#000" stroke-width="1.7"/>
<line x1="191.35" y1="415.10" x2="245.15" y2="415.10" stroke="#000" stroke-width="1.7"/>
<line x1="191.35" y1="442.80" x2="245.15" y2="442.80" stroke="#000" stroke-width="1.7"/>
<line x1="191.35" y1="470.00" x2="245.15" y2="470.00" stroke="#000" stroke-width="1.7"/>
<line x1="192.20" y1="388.80" x2="192.20" y2="470.00" stroke="#000" stroke-width="1.7"/>
<line x1="244.30" y1="388.80" x2="244.30" y2="470.00" stroke="#000" stroke-width="1.7"/>
<rect x="194.60" y="397.40" width="11.10" height="10.00" rx="3.50" fill="#000" opacity="1.0" filter="url(#b1)"/>
<rect x="206.90" y="397.40" width="10.30" height="10.00" rx="3.50" fill="#000" opacity="1.0" filter="url(#b1)"/>
<rect x="217.60" y="397.40" width="10.90" height="10.00" rx="3.50" fill="#000" opacity="1.0" filter="url(#b1)"/>
<rect x="230.30" y="397.40" width="10.30" height="10.00" rx="3.50" fill="#000" opacity="1.0" filter="url(#b1)"/>
<rect x="194.00" y="426.40" width="12.50" height="4.40" rx="2.20" fill="#000" opacity="1.0" filter="url(#b1)"/>
<rect x="206.50" y="426.40" width="11.70" height="4.40" rx="2.20" fill="#000" opacity="1.0" filter="url(#b1)"/>
<rect x="218.00" y="426.40" width="11.60" height="4.40" rx="2.20" fill="#000" opacity="1.0" filter="url(#b1)"/>
<rect x="229.50" y="426.40" width="11.50" height="4.40" rx="2.20" fill="#000" opacity="1.0" filter="url(#b1)"/>
<rect x="194.00" y="453.20" width="9.80" height="4.20" rx="2.10" fill="#000" opacity="1.0" filter="url(#b1)"/>
<rect x="204.50" y="453.20" width="11.50" height="4.20" rx="2.10" fill="#000" opacity="1.0" filter="url(#b1)"/>
<rect x="217.00" y="453.20" width="10.00" height="4.20" rx="2.10" fill="#000" opacity="1.0" filter="url(#b1)"/>
<rect x="229.50" y="453.20" width="9.90" height="4.20" rx="2.10" fill="#000" opacity="1.0" filter="url(#b1)"/>
<text x="249.10" y="405.60" font-size="7.0" fill="#000" stroke="#000" stroke-width="0.28">EGFP-BimEL</text>
<text x="249.10" y="431.60" font-size="7.0" fill="#000" stroke="#000" stroke-width="0.28">S-peptide</text>
<text x="250.50" y="457.30" font-size="7.0" fill="#000" stroke="#000" stroke-width="0.28">Actin</text>
<line x1="188.20" y1="399.50" x2="192.20" y2="399.50" stroke="#000" stroke-width="1.2"/>
<text x="184.30" y="401.90" font-size="6.6" text-anchor="end" fill="#000" stroke="#000" stroke-width="0.15">50</text>
<line x1="188.20" y1="432.60" x2="192.20" y2="432.60" stroke="#000" stroke-width="1.2"/>
<text x="184.30" y="435.00" font-size="6.6" text-anchor="end" fill="#000" stroke="#000" stroke-width="0.15">25</text>
<line x1="188.20" y1="446.30" x2="192.20" y2="446.30" stroke="#000" stroke-width="1.2"/>
<text x="184.30" y="448.70" font-size="6.6" text-anchor="end" fill="#000" stroke="#000" stroke-width="0.15">50</text>
<line x1="188.20" y1="459.90" x2="192.20" y2="459.90" stroke="#000" stroke-width="1.2"/>
<text x="184.30" y="462.30" font-size="6.6" text-anchor="end" fill="#000" stroke="#000" stroke-width="0.15">37</text>
<line x1="352.60" y1="225.30" x2="352.60" y2="297.90" stroke="#888" stroke-width="0.9"/>
<line x1="352.60" y1="297.90" x2="513.80" y2="297.90" stroke="#8a8a8a" stroke-width="1.3"/>
<line x1="352.60" y1="297.90" x2="354.60" y2="297.90" stroke="#888" stroke-width="0.9"/>
<text x="0.00" y="0.00" font-size="7.3" font-weight="normal" text-anchor="end" fill="#333" stroke="#333" stroke-width="0.25" transform="translate(345.20 300.50) scale(1 1.1)">0</text>
<line x1="352.60" y1="273.70" x2="354.60" y2="273.70" stroke="#888" stroke-width="0.9"/>
<text x="0.00" y="0.00" font-size="7.3" font-weight="normal" text-anchor="end" fill="#333" stroke="#333" stroke-width="0.25" transform="translate(345.20 276.30) scale(1 1.1)">10</text>
<line x1="352.60" y1="249.50" x2="354.60" y2="249.50" stroke="#888" stroke-width="0.9"/>
<text x="0.00" y="0.00" font-size="7.3" font-weight="normal" text-anchor="end" fill="#333" stroke="#333" stroke-width="0.25" transform="translate(345.20 252.10) scale(1 1.1)">20</text>
<line x1="352.60" y1="225.30" x2="354.60" y2="225.30" stroke="#888" stroke-width="0.9"/>
<text x="0.00" y="0.00" font-size="7.3" font-weight="normal" text-anchor="end" fill="#333" stroke="#333" stroke-width="0.25" transform="translate(345.20 227.90) scale(1 1.1)">30</text>
<text x="352.60" y="221.80" font-size="7.0" fill="#000" stroke="#000" stroke-width="0.25">Nalm6</text>
<text x="335.10" y="261.80" font-size="6.8" text-anchor="middle" fill="#000" stroke="#000" stroke-width="0.3" transform="rotate(-90 335.10 261.80)">EGFP postive cells (%)</text>
<rect x="358.30" y="252.16" width="11.20" height="45.74" fill="#b4b4b4"/>
<line x1="363.90" y1="236.19" x2="363.90" y2="268.62" stroke="#4a4a4a" stroke-width="1.1"/>
<line x1="362.60" y1="236.19" x2="365.20" y2="236.19" stroke="#4a4a4a" stroke-width="1.0"/>
<line x1="362.60" y1="268.62" x2="365.20" y2="268.62" stroke="#4a4a4a" stroke-width="1.0"/>
<rect x="381.10" y="294.03" width="11.70" height="3.87" fill="#000"/>
<line x1="386.95" y1="292.33" x2="386.95" y2="294.03" stroke="#222" stroke-width="1.1"/>
<line x1="385.65" y1="292.33" x2="388.25" y2="292.33" stroke="#222" stroke-width="1.0"/>
<line x1="385.65" y1="294.03" x2="388.25" y2="294.03" stroke="#222" stroke-width="1.0"/>
<rect x="404.50" y="251.19" width="11.30" height="46.71" fill="#d9d9d9"/>
<line x1="410.15" y1="242.72" x2="410.15" y2="259.91" stroke="#4a4a4a" stroke-width="1.1"/>
<line x1="408.85" y1="242.72" x2="411.45" y2="242.72" stroke="#4a4a4a" stroke-width="1.0"/>
<line x1="408.85" y1="259.91" x2="411.45" y2="259.91" stroke="#4a4a4a" stroke-width="1.0"/>
<rect x="427.00" y="283.86" width="11.80" height="14.04" fill="#000"/>
<line x1="432.90" y1="282.90" x2="432.90" y2="284.59" stroke="#222" stroke-width="1.1"/>
<line x1="431.60" y1="282.90" x2="434.20" y2="282.90" stroke="#222" stroke-width="1.0"/>
<line x1="431.60" y1="284.59" x2="434.20" y2="284.59" stroke="#222" stroke-width="1.0"/>
<rect x="450.00" y="276.12" width="11.80" height="21.78" fill="#000"/>
<line x1="455.90" y1="273.46" x2="455.90" y2="278.54" stroke="#222" stroke-width="1.1"/>
<line x1="454.60" y1="273.46" x2="457.20" y2="273.46" stroke="#222" stroke-width="1.0"/>
<line x1="454.60" y1="278.54" x2="457.20" y2="278.54" stroke="#222" stroke-width="1.0"/>
<rect x="473.30" y="279.27" width="11.70" height="18.63" fill="#000"/>
<line x1="479.15" y1="276.36" x2="479.15" y2="281.93" stroke="#222" stroke-width="1.1"/>
<line x1="477.85" y1="276.36" x2="480.45" y2="276.36" stroke="#222" stroke-width="1.0"/>
<line x1="477.85" y1="281.93" x2="480.45" y2="281.93" stroke="#222" stroke-width="1.0"/>
<rect x="496.30" y="286.04" width="11.20" height="11.86" fill="#000"/>
<line x1="501.90" y1="281.44" x2="501.90" y2="290.64" stroke="#222" stroke-width="1.1"/>
<line x1="500.60" y1="281.44" x2="503.20" y2="281.44" stroke="#222" stroke-width="1.0"/>
<line x1="500.60" y1="290.64" x2="503.20" y2="290.64" stroke="#222" stroke-width="1.0"/>
<path d="M433.00,246.30 L433.00,237.50 L479.30,237.50 L479.30,251.30" stroke="#777" stroke-width="0.9" fill="none"/>
<text x="0.00" y="0.00" font-size="7.2" font-weight="normal" fill="#111" stroke="#111" stroke-width="0.3" transform="translate(444.50 235.30) scale(1 1.12)">p=0.06</text>
<path d="M433.00,272.00 L433.00,258.80 L456.30,258.80 L456.30,267.50" stroke="#777" stroke-width="0.9" fill="none"/>
<text x="0.00" y="0.00" font-size="7.2" font-weight="normal" fill="#111" stroke="#111" stroke-width="0.3" transform="translate(432.00 255.80) scale(1 1.12)">p=0.004</text>
<line x1="353.40" y1="321.80" x2="353.40" y2="401.30" stroke="#888" stroke-width="0.9"/>
<line x1="353.40" y1="401.30" x2="517.50" y2="401.30" stroke="#8a8a8a" stroke-width="1.3"/>
<line x1="353.40" y1="401.30" x2="355.40" y2="401.30" stroke="#888" stroke-width="0.9"/>
<text x="0.00" y="0.00" font-size="7.3" font-weight="normal" text-anchor="end" fill="#333" stroke="#333" stroke-width="0.25" transform="translate(345.20 404.60) scale(1 1.1)">0</text>
<line x1="353.40" y1="381.43" x2="355.40" y2="381.43" stroke="#888" stroke-width="0.9"/>
<text x="0.00" y="0.00" font-size="7.3" font-weight="normal" text-anchor="end" fill="#333" stroke="#333" stroke-width="0.25" transform="translate(345.20 384.73) scale(1 1.1)">20</text>
<line x1="353.40" y1="361.55" x2="355.40" y2="361.55" stroke="#888" stroke-width="0.9"/>
<text x="0.00" y="0.00" font-size="7.3" font-weight="normal" text-anchor="end" fill="#333" stroke="#333" stroke-width="0.25" transform="translate(345.20 364.85) scale(1 1.1)">40</text>
<line x1="353.40" y1="341.68" x2="355.40" y2="341.68" stroke="#888" stroke-width="0.9"/>
<text x="0.00" y="0.00" font-size="7.3" font-weight="normal" text-anchor="end" fill="#333" stroke="#333" stroke-width="0.25" transform="translate(345.20 344.98) scale(1 1.1)">60</text>
<line x1="353.40" y1="321.80" x2="355.40" y2="321.80" stroke="#888" stroke-width="0.9"/>
<text x="0.00" y="0.00" font-size="7.3" font-weight="normal" text-anchor="end" fill="#333" stroke="#333" stroke-width="0.25" transform="translate(345.20 325.10) scale(1 1.1)">80</text>
<text x="352.60" y="317.20" font-size="7.0" fill="#000" stroke="#000" stroke-width="0.25">Jurkat</text>
<text x="335.10" y="361.30" font-size="6.8" text-anchor="middle" fill="#000" stroke="#000" stroke-width="0.3" transform="rotate(-90 335.10 361.30)">EGFP positive cells (%)</text>
<rect x="359.30" y="348.23" width="10.70" height="53.07" fill="#a6a6a6"/>
<line x1="364.65" y1="341.68" x2="364.65" y2="354.59" stroke="#4a4a4a" stroke-width="1.1"/>
<line x1="363.35" y1="341.68" x2="365.95" y2="341.68" stroke="#4a4a4a" stroke-width="1.0"/>
<line x1="363.35" y1="354.59" x2="365.95" y2="354.59" stroke="#4a4a4a" stroke-width="1.0"/>
<rect x="382.20" y="387.88" width="11.40" height="13.42" fill="#000"/>
<line x1="387.90" y1="384.90" x2="387.90" y2="390.37" stroke="#222" stroke-width="1.1"/>
<line x1="386.60" y1="384.90" x2="389.20" y2="384.90" stroke="#222" stroke-width="1.0"/>
<line x1="386.60" y1="390.37" x2="389.20" y2="390.37" stroke="#222" stroke-width="1.0"/>
<rect x="405.80" y="346.15" width="11.70" height="55.15" fill="#d9d9d9"/>
<line x1="411.65" y1="341.68" x2="411.65" y2="350.62" stroke="#4a4a4a" stroke-width="1.1"/>
<line x1="410.35" y1="341.68" x2="412.95" y2="341.68" stroke="#4a4a4a" stroke-width="1.0"/>
<line x1="410.35" y1="350.62" x2="412.95" y2="350.62" stroke="#4a4a4a" stroke-width="1.0"/>
<rect x="429.30" y="369.50" width="11.50" height="31.80" fill="#000"/>
<line x1="435.05" y1="368.71" x2="435.05" y2="370.49" stroke="#222" stroke-width="1.1"/>
<line x1="433.75" y1="368.71" x2="436.35" y2="368.71" stroke="#222" stroke-width="1.0"/>
<line x1="433.75" y1="370.49" x2="436.35" y2="370.49" stroke="#222" stroke-width="1.0"/>
<rect x="452.50" y="360.06" width="11.80" height="41.24" fill="#000"/>
<line x1="458.40" y1="357.08" x2="458.40" y2="363.04" stroke="#222" stroke-width="1.1"/>
<line x1="457.10" y1="357.08" x2="459.70" y2="357.08" stroke="#222" stroke-width="1.0"/>
<line x1="457.10" y1="363.04" x2="459.70" y2="363.04" stroke="#222" stroke-width="1.0"/>
<rect x="476.30" y="362.74" width="11.20" height="38.56" fill="#000"/>
<line x1="481.90" y1="362.25" x2="481.90" y2="363.34" stroke="#222" stroke-width="1.1"/>
<line x1="480.60" y1="362.25" x2="483.20" y2="362.25" stroke="#222" stroke-width="1.0"/>
<line x1="480.60" y1="363.34" x2="483.20" y2="363.34" stroke="#222" stroke-width="1.0"/>
<rect x="499.30" y="380.63" width="12.00" height="20.67" fill="#000"/>
<line x1="505.30" y1="373.97" x2="505.30" y2="387.39" stroke="#222" stroke-width="1.1"/>
<line x1="504.00" y1="373.97" x2="506.60" y2="373.97" stroke="#222" stroke-width="1.0"/>
<line x1="504.00" y1="387.39" x2="506.60" y2="387.39" stroke="#222" stroke-width="1.0"/>
<path d="M434.50,347.50 L434.50,326.80 L482.50,326.80 L482.50,340.00" stroke="#777" stroke-width="0.9" fill="none"/>
<text x="0.00" y="0.00" font-size="7.2" font-weight="normal" fill="#111" stroke="#111" stroke-width="0.3" transform="translate(445.50 324.50) scale(1 1.12)">p=0.001</text>
<path d="M434.50,360.50 L434.50,347.50 L458.80,347.50 L458.80,353.80" stroke="#777" stroke-width="0.9" fill="none"/>
<text x="0.00" y="0.00" font-size="7.2" font-weight="normal" fill="#111" stroke="#111" stroke-width="0.3" transform="translate(434.50 344.50) scale(1 1.12)">p=0.01</text>
<text x="341.10" y="421.20" font-size="7.2" text-anchor="end" fill="#000" stroke="#000" stroke-width="0.28">EGFP</text>
<text x="341.10" y="434.60" font-size="7.2" text-anchor="end" fill="#000" stroke="#000" stroke-width="0.28">EGFP-BimEL</text>
<text x="340.20" y="452.00" font-size="7.2" text-anchor="end" fill="#000" stroke="#000" stroke-width="0.28">Bcl-2</text>
<line x1="353.20" y1="423.60" x2="519.00" y2="423.60" stroke="#333" stroke-width="1.1"/>
<line x1="353.20" y1="438.10" x2="519.00" y2="438.10" stroke="#333" stroke-width="1.1"/>
<line x1="353.20" y1="461.50" x2="519.00" y2="461.50" stroke="#333" stroke-width="1.1"/>
<text x="363.50" y="419.20" font-size="6.5" text-anchor="middle" fill="#000" stroke="#000" stroke-width="0.28">+</text>
<text x="363.50" y="432.30" font-size="6.5" text-anchor="middle" fill="#000" stroke="#000" stroke-width="0.28">-</text>
<text x="387.50" y="419.20" font-size="6.5" text-anchor="middle" fill="#000" stroke="#000" stroke-width="0.28">-</text>
<text x="387.50" y="432.30" font-size="6.5" text-anchor="middle" fill="#000" stroke="#000" stroke-width="0.28">+</text>
<text x="411.50" y="419.20" font-size="6.5" text-anchor="middle" fill="#000" stroke="#000" stroke-width="0.28">+</text>
<text x="411.50" y="432.30" font-size="6.5" text-anchor="middle" fill="#000" stroke="#000" stroke-width="0.28">-</text>
<text x="435.80" y="419.20" font-size="6.5" text-anchor="middle" fill="#000" stroke="#000" stroke-width="0.28">-</text>
<text x="435.80" y="432.30" font-size="6.5" text-anchor="middle" fill="#000" stroke="#000" stroke-width="0.28">+</text>
<text x="458.20" y="419.20" font-size="6.5" text-anchor="middle" fill="#000" stroke="#000" stroke-width="0.28">-</text>
<text x="458.20" y="432.30" font-size="6.5" text-anchor="middle" fill="#000" stroke="#000" stroke-width="0.28">+</text>
<text x="482.60" y="419.20" font-size="6.5" text-anchor="middle" fill="#000" stroke="#000" stroke-width="0.28">-</text>
<text x="482.60" y="432.30" font-size="6.5" text-anchor="middle" fill="#000" stroke="#000" stroke-width="0.28">+</text>
<text x="506.00" y="419.20" font-size="6.5" text-anchor="middle" fill="#000" stroke="#000" stroke-width="0.28">-</text>
<text x="506.00" y="432.30" font-size="6.5" text-anchor="middle" fill="#000" stroke="#000" stroke-width="0.28">+</text>
<text x="363.50" y="452.30" font-size="6.5" text-anchor="middle" fill="#000" stroke="#000" stroke-width="0.28">-</text>
<text x="387.50" y="452.30" font-size="6.5" text-anchor="middle" fill="#000" stroke="#000" stroke-width="0.28">-</text>
<text x="406.70" y="452.80" font-size="7.3" fill="#000" stroke="#000" stroke-width="0.28" transform="rotate(-45 406.70 452.80)">WT</text>
<text x="432.10" y="453.40" font-size="7.3" fill="#000" stroke="#000" stroke-width="0.28" transform="rotate(-45 432.10 453.40)">WT</text>
<text x="451.60" y="457.00" font-size="7.3" fill="#000" stroke="#000" stroke-width="0.28" transform="rotate(-45 451.60 457.00)">G33R</text>
<text x="476.90" y="456.60" font-size="7.3" fill="#000" stroke="#000" stroke-width="0.28" transform="rotate(-45 476.90 456.60)">A43T</text>
<text x="497.70" y="457.10" font-size="7.3" fill="#000" stroke="#000" stroke-width="0.28" transform="rotate(-45 497.70 457.10)">A82G</text>
</svg>
</body></html>
